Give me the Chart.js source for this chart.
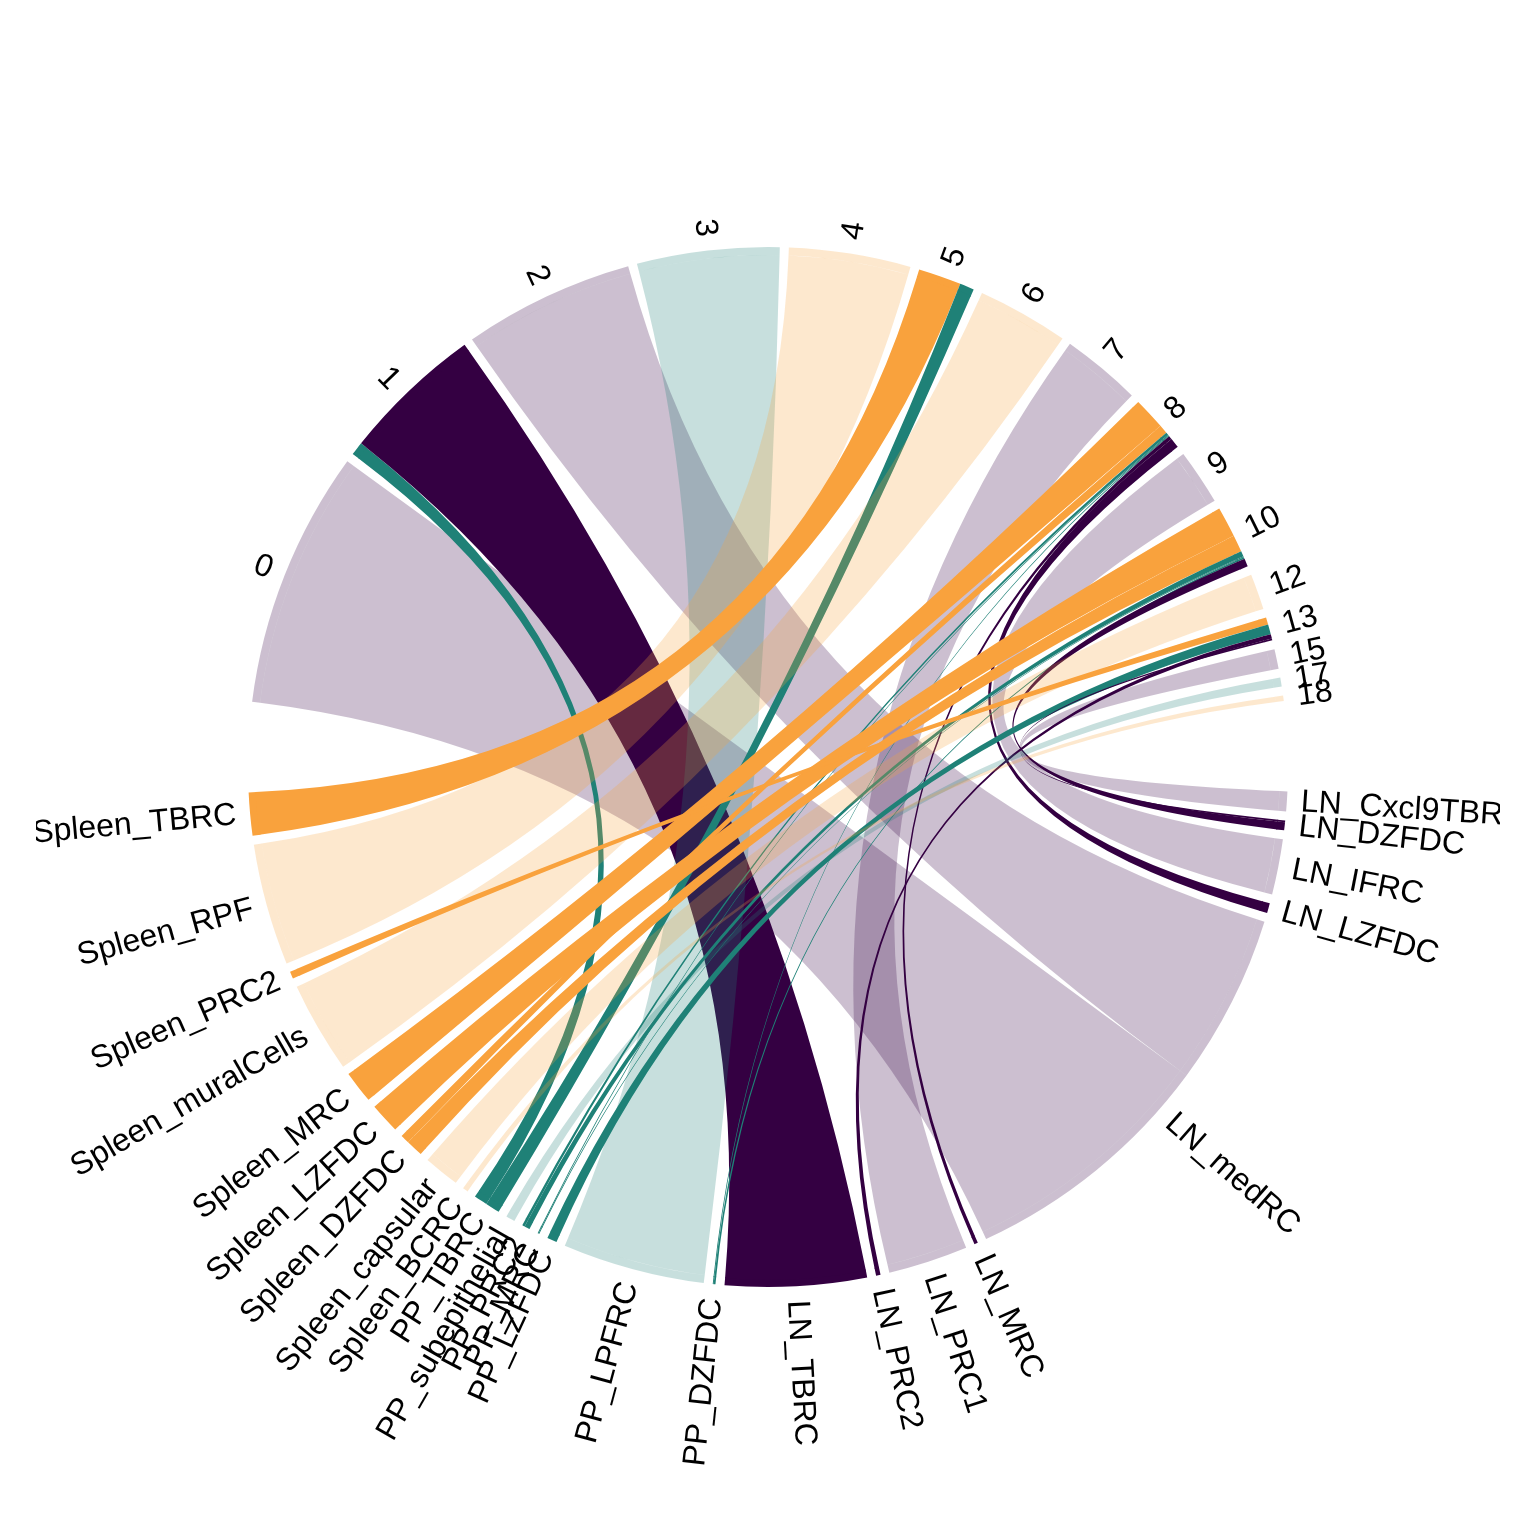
<!DOCTYPE html>
<html>
<head>
<meta charset="utf-8">
<script src="https://cdn.jsdelivr.net/npm/chart.js@4.4.1/dist/chart.umd.min.js"></script>
<style>
html,body{margin:0;padding:0;background:#fff;}
#wrap{width:1536px;height:1536px;position:relative;}
</style>
</head>
<body>
<div id="wrap"><canvas id="c"></canvas></div>
<script>
// ---------------- data ----------------
const clusters = ['0','1','2','3','4','5','6','7','8','9','10','12','13','15','17','18'];
const nodes = ['LN_Cxcl9TBRC','LN_DZFDC','LN_IFRC','LN_LZFDC','LN_medRC','LN_MRC','LN_PRC1','LN_PRC2','LN_TBRC',
  'PP_DZFDC','PP_LPFRC','PP_LZFDC','PP_MRC','PP_PRC2','PP_subepithelial','PP_TBRC',
  'Spleen_BCRC','Spleen_capsular','Spleen_DZFDC','Spleen_LZFDC','Spleen_MRC','Spleen_muralCells','Spleen_PRC2','Spleen_RPF','Spleen_TBRC'];
const flowSource = ['0','1','1','2','3','4','5','5','6','7',
  '8','8','8','8','8','8','8','9',
  '10','10','10','10','10','10','12',
  '13','13','13','13','15','17','18'];
const flowTarget = ['LN_medRC','PP_TBRC','LN_TBRC','LN_medRC','PP_LPFRC','Spleen_RPF','Spleen_TBRC','PP_TBRC','Spleen_muralCells','LN_PRC1',
  'Spleen_MRC','Spleen_DZFDC','PP_PRC2','PP_MRC','PP_DZFDC','LN_MRC','LN_LZFDC','LN_IFRC',
  'Spleen_LZFDC','Spleen_DZFDC','PP_PRC2','PP_MRC','PP_DZFDC','LN_DZFDC','Spleen_capsular',
  'Spleen_PRC2','PP_LZFDC','LN_PRC2','LN_DZFDC','LN_Cxcl9TBRC','PP_subepithelial','Spleen_BCRC'];
const flowValue = [288,15,158,191,159,136,48,16,102,89,
  36,10,3,1,1,4,11,62,
  34,19,6,1,2,9,40,
  8,11,5,2,22,10,6];

// ---------------- styles ----------------
const tissueRGB = {LN:'52,0,66', PP:'31,129,119', Spleen:'249,162,61'};
const lightNodes = ['LN_Cxcl9TBRC','LN_IFRC','LN_medRC','LN_PRC1','PP_LPFRC','PP_subepithelial',
  'Spleen_BCRC','Spleen_capsular','Spleen_muralCells','Spleen_RPF'];
const LIGHT_ALPHA = 0.25;
const START_DEG = 187.2, SMALL_GAP_DEG = 1.0, BIG_GAP_DEG = 10.0;
const FONT = '32px "Liberation Sans", Arial, sans-serif';
const LABEL_OFFSET = 14;

function flowAlpha(i){ return lightNodes.includes(flowTarget[i]) ? LIGHT_ALPHA : 1; }
function flowColor(i){ const t = flowTarget[i].split('_')[0]; return 'rgba(' + tissueRGB[t] + ',' + flowAlpha(i) + ')'; }

// ---------------- build doughnut slices ----------------
const flowIdx = flowValue.map((v,i)=>i);
const totalFlow = flowValue.reduce((a,b)=>a+b,0);
const nSmall = (clusters.length-1) + (nodes.length-1);
const degPerUnit = (360 - nSmall*SMALL_GAP_DEG - 2*BIG_GAP_DEG) / (2*totalFlow);
const smallGap = SMALL_GAP_DEG/degPerUnit, bigGap = BIG_GAP_DEG/degPerUnit;

const slices = [];
const groups = [];
clusters.forEach((c,ci)=>{
  const fl = flowIdx.filter(i=>flowSource[i]===c)
    .sort((a,b)=>nodes.indexOf(flowTarget[b]) - nodes.indexOf(flowTarget[a]));
  const first = slices.length;
  fl.forEach(i=>slices.push({v:flowValue[i], flow:i, side:'s'}));
  groups.push({label:c, first:first, last:slices.length-1});
  slices.push({v: ci < clusters.length-1 ? smallGap : bigGap, gap:true});
});
nodes.forEach((n,ni)=>{
  const fl = flowIdx.filter(i=>flowTarget[i]===n)
    .sort((a,b)=>clusters.indexOf(flowSource[b]) - clusters.indexOf(flowSource[a]));
  const first = slices.length;
  fl.forEach(i=>slices.push({v:flowValue[i], flow:i, side:'t'}));
  groups.push({label:n, first:first, last:slices.length-1});
  slices.push({v: ni < nodes.length-1 ? smallGap : bigGap, gap:true});
});

const chordPlugin = {
  id: 'chord',
  afterDatasetsDraw(chart){
    const arcs = chart.getDatasetMeta(0).data;
    const ctx = chart.ctx;
    const srcK = {}, tgtK = {};
    slices.forEach((s,k)=>{ if(s.gap) return; (s.side==='s'?srcK:tgtK)[s.flow]=k; });
    const order = slices.filter(s=>!s.gap && s.side==='s').map(s=>s.flow);
    ctx.save();
    order.forEach(f=>{
      const a = arcs[srcK[f]].getProps(['x','y','startAngle','endAngle','innerRadius'], true);
      const b = arcs[tgtK[f]].getProps(['startAngle','endAngle'], true);
      const r = a.innerRadius + (flowAlpha(f)===1 ? 1 : 0);
      const cx = a.x, cy = a.y;
      ctx.beginPath();
      ctx.arc(cx,cy,r,a.startAngle,a.endAngle);
      ctx.quadraticCurveTo(cx,cy,cx+r*Math.cos(b.startAngle),cy+r*Math.sin(b.startAngle));
      ctx.arc(cx,cy,r,b.startAngle,b.endAngle);
      ctx.quadraticCurveTo(cx,cy,cx+r*Math.cos(a.startAngle),cy+r*Math.sin(a.startAngle));
      ctx.closePath();
      ctx.fillStyle = flowColor(f);
      ctx.fill();
    });
    ctx.restore();
  },
  afterDraw(chart){
    const arcs = chart.getDatasetMeta(0).data;
    const ctx = chart.ctx;
    const p0 = arcs[0].getProps(['x','y','outerRadius'], true);
    const rr = p0.outerRadius + LABEL_OFFSET;
    ctx.save();
    ctx.beginPath(); ctx.rect(36,0,1464,chart.height); ctx.clip();
    ctx.font = FONT; ctx.fillStyle = '#000'; ctx.textBaseline = 'middle';
    groups.forEach(g=>{
      const th = (arcs[g.first].startAngle + arcs[g.last].endAngle)/2;
      ctx.save();
      ctx.translate(p0.x + rr*Math.cos(th), p0.y + rr*Math.sin(th));
      if (Math.cos(th) < 0){ ctx.rotate(th + Math.PI); ctx.textAlign = 'right'; }
      else { ctx.rotate(th); ctx.textAlign = 'left'; }
      ctx.fillText(g.label, 0, 0);
      ctx.restore();
    });
    ctx.restore();
  }
};

new Chart(document.getElementById('c'), {
  type: 'doughnut',
  data: {
    labels: slices.map(s=> s.gap ? '' : flowSource[s.flow] + ' → ' + flowTarget[s.flow]),
    datasets: [{
      data: slices.map(s=>s.v),
      backgroundColor: slices.map(s=> s.gap ? 'rgba(0,0,0,0)' : flowColor(s.flow)),
      borderWidth: 0,
      hoverOffset: 0,
      spacing: 0
    }]
  },
  options: {
    responsive: true,
    maintainAspectRatio: false,
    animation: false,
    events: [],
    rotation: START_DEG + 90,
    radius: 520,
    cutout: 512,
    layout: { padding: { left: 248, right: 248, top: 247, bottom: 249 } },
    plugins: { legend: { display: false }, tooltip: { enabled: false }, title: { display: false } }
  },
  plugins: [chordPlugin]
});
</script>
</body>
</html>
